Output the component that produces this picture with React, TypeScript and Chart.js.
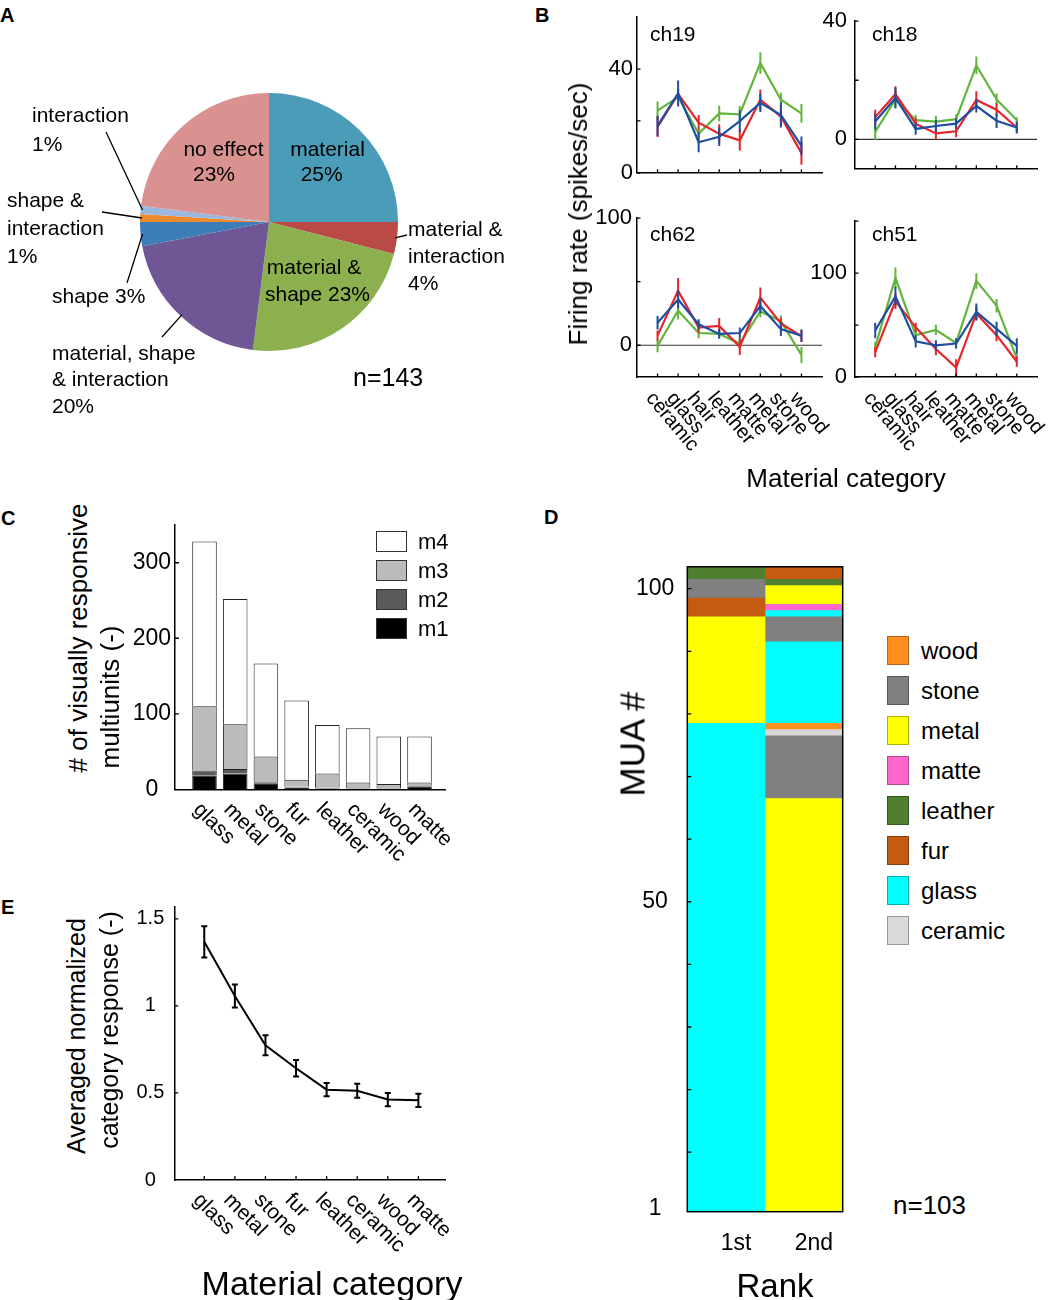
import React, { useEffect, useRef } from 'react';
import { Chart, registerables } from 'chart.js';

Chart.register(...registerables);

const FONT = '"Liberation Sans", Arial, Helvetica, sans-serif';
Chart.defaults.font.family = FONT;
Chart.defaults.color = '#000';

// ================= Panel A : pie =================
const pieLabels = [
  'material',
  'material & interaction',
  'material & shape',
  'material, shape & interaction',
  'shape',
  'shape & interaction',
  'interaction',
  'no effect',
];
const piePercents = [25, 4, 23, 20, 3, 1, 1, 23];
const pieColors = ['#4A9CB8', '#B94A46', '#8DB04E', '#6F5694', '#3E7EB8', '#EC8A2E', '#9CB7DD', '#D9928F'];

// ================= Panel B : firing rates =================
const bCategories = ['ceramic', 'glass', 'hair', 'leather', 'matte', 'metal', 'stone', 'wood'];

const ch19Green = [24, 29.2, 15.1, 22.9, 22.5, 42.3, 28.2, 22.9];
const ch19GreenErr = [3.5, 3.3, 1.5, 3, 3.3, 4.2, 2.7, 3.6];
const ch19Red = [17.7, 30.4, 19.3, 15.1, 12.5, 28.2, 21.7, 7.6];
const ch19RedErr = [3.9, 2, 3, 3.6, 3.9, 3.9, 3, 4.5];
const ch19Blue = [18.1, 30.6, 11.8, 13.9, 19.9, 27, 22.3, 10.4];
const ch19BlueErr = [3.9, 5, 3.9, 3.6, 4.2, 3.6, 4.8, 3.6];

const ch18Green = [2.5, 13.5, 6.5, 6, 6.8, 25, 13.5, 6.5];
const ch18GreenErr = [2.7, 3, 1.7, 2, 1.7, 3, 2, 1];
const ch18Red = [7.5, 15.3, 5.3, 2, 2.7, 13.3, 10, 4];
const ch18RedErr = [2.5, 2.7, 1.7, 2.2, 2, 3, 2.2, 1.7];
const ch18Blue = [6, 14, 3.5, 4.5, 5.3, 11.3, 6.3, 4];
const ch18BlueErr = [2.7, 3.5, 2, 2, 1.7, 2.2, 2.5, 2];

const ch62Green = [-0.5, 27.3, 9.6, 8.9, 1.3, 26.6, 19, -7.6];
const ch62GreenErr = [5, 7, 4, 3, 4, 4.5, 4.5, 6.3];
const ch62Red = [7.6, 43, 13.9, 15.2, -1.3, 37.5, 17.2, 7.1];
const ch62RedErr = [4, 10, 4, 6.3, 6.3, 8, 4.5, 4.5];
const ch62Blue = [17.7, 36, 16.5, 8.9, 9.6, 30.9, 12.7, 7.6];
const ch62BlueErr = [5.3, 7, 4, 3.8, 4.4, 5.7, 5.4, 5];

const ch51Green = [29, 95.5, 40.3, 45.4, 32.8, 92.5, 68.7, 17.9];
const ch51GreenErr = [5, 10, 4.5, 5, 4, 7.5, 6.5, 4.5];
const ch51Red = [23.9, 73, 47.8, 26.9, 9, 61.2, 40.3, 14.9];
const ch51RedErr = [5, 7.5, 4.5, 6, 8, 6.7, 6, 5];
const ch51Blue = [44.8, 77.6, 34.3, 30.4, 32.2, 62.7, 46.3, 29.9];
const ch51BlueErr = [7.5, 9, 6, 5, 5, 8, 7, 7.5];

// ================= Panel C : stacked counts =================
const cCategories = ['glass', 'metal', 'stone', 'fur', 'leather', 'ceramic', 'wood', 'matte'];
const cM1 = [18, 21, 8, 2.5, 1, 1, 1, 3.5];
const cM2 = [7, 6, 1.5, 1, 1, 0.5, 0.5, 1.5];
const cM3 = [85, 59, 34, 9, 19, 7.5, 5.5, 4];
const cM4 = [218, 166, 123, 105, 64, 72, 63, 61];
const cYTicks = [0, 100, 200, 300];

// ================= Panel D : rank composition =================
const dRanks = ['1st', '2nd'];
const rank1Materials = ['glass', 'metal', 'fur', 'stone', 'leather'];
const rank1Counts = [78, 17, 3, 3, 2];
const rank2Materials = ['metal', 'stone', 'ceramic', 'wood', 'glass', 'stone', 'glass', 'matte', 'metal', 'leather', 'fur'];
const rank2Counts = [66, 10, 1, 1, 13, 4, 1, 1, 3, 1, 2];
const dLegendOrder = ['wood', 'stone', 'metal', 'matte', 'leather', 'fur', 'glass', 'ceramic'];
const dYTicks = [1, 10, 20, 30, 40, 50, 60, 70, 80, 90, 100];
const dYLabels = [1, 50, 100];

// ================= Panel E : averaged response =================
const eCategories = ['glass', 'metal', 'stone', 'fur', 'leather', 'ceramic', 'wood', 'matte'];
const eValues = [1.368, 1.057, 0.774, 0.642, 0.519, 0.513, 0.462, 0.458];
const eErrors = [0.09, 0.066, 0.057, 0.047, 0.038, 0.04, 0.038, 0.038];
const eYTicks = [0, 0.5, 1, 1.5];

// ---------------- styles ----------------
const GREEN = '#62B43C';
const RED = '#E4262B';
const BLUE = '#1F4E9F';
const materialColors: Record<string, string> = {
  wood: '#FF8F1F',
  stone: '#808080',
  metal: '#FFFF00',
  matte: '#FF66CC',
  leather: '#4F7F2F',
  fur: '#C55A11',
  glass: '#00FFFF',
  ceramic: '#D9D9D9',
};
const cColors = { m1: '#000000', m2: '#5A5A5A', m3: '#BBBBBB', m4: '#FFFFFF' };

type Box = { x: number; y: number; w: number; h: number };
type Area = { L: number; T: number; R: number; B: number };

function layoutFor(area: Area, cv: Box) {
  return {
    padding: { top: area.T - cv.y, right: cv.x + cv.w - area.R, left: 0, bottom: 0 },
    yW: area.L - cv.x,
    xH: cv.y + cv.h - area.B,
  };
}

function base(lay: any, scales: any) {
  return {
    animation: false,
    responsive: false,
    devicePixelRatio: 1,
    events: [],
    layout: { padding: lay.padding },
    plugins: { legend: { display: false }, tooltip: { enabled: false } },
    scales,
  };
}

function xLinear(min: number, max: number, xH: number) {
  return {
    type: 'linear',
    min,
    max,
    offset: false,
    grid: { display: false, drawTicks: false, offset: false },
    border: { display: true, color: '#000', width: 1.5 },
    ticks: { display: false },
    afterFit: (s: any) => {
      s.height = xH;
    },
  };
}

function yLinear(min: number, max: number, tickVals: number[], labelVals: number[], pad: number, size: number, yW: number, crossAlign: string) {
  return {
    type: 'linear',
    min,
    max,
    grid: { display: false, drawTicks: false },
    border: { display: true, color: '#000', width: 1.5 },
    afterBuildTicks: (s: any) => {
      s.ticks = tickVals.map((v) => ({ value: v }));
    },
    ticks: {
      autoSkip: false,
      color: '#000',
      font: { size, family: FONT },
      padding: pad,
      crossAlign,
      callback: (v: any) => (labelVals.some((l) => Math.abs(l - Number(v)) < 1e-9) ? String(v) : ''),
    },
    afterFit: (s: any) => {
      s.width = yW;
    },
  };
}

// ---------------- plugins ----------------
function makeInTicks(xVals: number[], yVals: number[], len = 4) {
  return {
    id: 'inTicks',
    afterDraw(chart: any) {
      const { ctx, chartArea } = chart;
      const xs = chart.scales.x;
      const ys = chart.scales.y;
      ctx.save();
      ctx.strokeStyle = '#000';
      ctx.lineWidth = 1.3;
      ctx.beginPath();
      xVals.forEach((v) => {
        const px = xs.getPixelForValue(v);
        ctx.moveTo(px, chartArea.bottom);
        ctx.lineTo(px, chartArea.bottom - len);
      });
      yVals.forEach((v) => {
        const py = ys.getPixelForValue(v);
        ctx.moveTo(chartArea.left, py);
        ctx.lineTo(chartArea.left + len, py);
      });
      ctx.stroke();
      ctx.restore();
    },
  };
}

function makeRotLabels(labels: string[], angle: number, dx: number, dy: number, size: number) {
  return {
    id: 'rotLabels',
    afterDraw(chart: any) {
      const { ctx, chartArea } = chart;
      const xs = chart.scales.x;
      ctx.save();
      ctx.font = `${size}px ${FONT}`;
      ctx.fillStyle = '#000';
      ctx.textAlign = 'left';
      ctx.textBaseline = 'middle';
      labels.forEach((lab, i) => {
        const px = xs.getPixelForValue(i);
        ctx.save();
        ctx.translate(px + dx, chartArea.bottom + dy);
        ctx.rotate((angle * Math.PI) / 180);
        ctx.fillText(lab, 0, 0);
        ctx.restore();
      });
      ctx.restore();
    },
  };
}

function makeErrBars(errsBySet: number[][], cap: number, lw: number) {
  return {
    id: 'errBars',
    afterDatasetDraw(chart: any, args: any) {
      const i = args.index;
      const errs = errsBySet[i];
      if (!errs) return;
      const ds = chart.data.datasets[i];
      const xs = chart.scales.x;
      const ys = chart.scales.y;
      const ctx = chart.ctx;
      ctx.save();
      ctx.strokeStyle = ds.borderColor;
      ctx.lineWidth = lw;
      ctx.beginPath();
      ds.data.forEach((p: any, k: number) => {
        const x = xs.getPixelForValue(p.x);
        const y1 = ys.getPixelForValue(p.y - errs[k]);
        const y2 = ys.getPixelForValue(p.y + errs[k]);
        ctx.moveTo(x, y1);
        ctx.lineTo(x, y2);
        if (cap) {
          ctx.moveTo(x - cap, y1);
          ctx.lineTo(x + cap, y1);
          ctx.moveTo(x - cap, y2);
          ctx.lineTo(x + cap, y2);
        }
      });
      ctx.stroke();
      ctx.restore();
    },
  };
}

const zeroLine = {
  id: 'zeroLine',
  beforeDatasetsDraw(chart: any) {
    const { ctx, chartArea } = chart;
    const py = chart.scales.y.getPixelForValue(0);
    ctx.save();
    ctx.strokeStyle = '#333';
    ctx.lineWidth = 1.2;
    ctx.beginPath();
    ctx.moveTo(chartArea.left, py);
    ctx.lineTo(chartArea.right, py);
    ctx.stroke();
    ctx.restore();
  },
};

const frameBox = {
  id: 'frameBox',
  afterDatasetsDraw(chart: any) {
    const { ctx, chartArea } = chart;
    ctx.save();
    ctx.strokeStyle = '#000';
    ctx.lineWidth = 1.5;
    ctx.strokeRect(chartArea.left, chartArea.top, chartArea.right - chartArea.left, chartArea.bottom - chartArea.top);
    ctx.restore();
  },
};

const leaderTargets = [
  { slice: 1, x: 407, y: 235 },
  { slice: 3, x: 162, y: 337 },
  { slice: 4, x: 127, y: 283 },
  { slice: 5, x: 102, y: 212 },
  { slice: 6, x: 106, y: 132 },
];

function makeLeaders(ox: number, oy: number) {
  return {
    id: 'leaders',
    afterDraw(chart: any) {
      const meta = chart.getDatasetMeta(0);
      const ctx = chart.ctx;
      ctx.save();
      ctx.strokeStyle = '#000';
      ctx.lineWidth = 1.3;
      leaderTargets.forEach((t) => {
        const arc: any = meta.data[t.slice];
        const p = arc.getProps(['x', 'y', 'startAngle', 'endAngle', 'outerRadius'], true);
        const mid = (p.startAngle + p.endAngle) / 2;
        const r = p.outerRadius - 2;
        ctx.beginPath();
        ctx.moveTo(p.x + Math.cos(mid) * r, p.y + Math.sin(mid) * r);
        ctx.lineTo(t.x - ox, t.y - oy);
        ctx.stroke();
      });
      ctx.restore();
    },
  };
}

// ---------------- chart factories ----------------
const pieBox: Box = { x: 90, y: 43, w: 358, h: 358 };
function makePie() {
  return {
    type: 'pie',
    data: {
      labels: pieLabels,
      datasets: [{ data: piePercents, backgroundColor: pieColors, borderWidth: 0, radius: 129 }],
    },
    options: {
      animation: false,
      responsive: false,
      devicePixelRatio: 1,
      events: [],
      layout: { padding: 0 },
      plugins: { legend: { display: false }, tooltip: { enabled: false } },
    },
    plugins: [makeLeaders(pieBox.x, pieBox.y)],
  };
}

type Series = { values: number[]; errs: number[]; color: string };

function makeB(area: Area, cv: Box, yMin: number, yMax: number, yTicks: number[], yLabels: number[], labPad: number, series: Series[], zero: boolean, xLabels: boolean) {
  const lay = layoutFor(area, cv);
  const plugins: any[] = [makeInTicks(bCategories.map((_, i) => i), yTicks, 3.5), makeErrBars(series.map((s) => s.errs), 0, 2)];
  if (zero) plugins.push(zeroLine);
  if (xLabels) plugins.push(makeRotLabels(bCategories, 50, -8, 18, 20));
  return {
    type: 'line',
    data: {
      datasets: series.map((s) => ({
        data: s.values.map((v, i) => ({ x: i, y: v })),
        borderColor: s.color,
        borderWidth: 2.2,
        pointRadius: 0,
        tension: 0,
        fill: false,
      })),
    },
    options: base(lay, {
      x: xLinear(-1, 8, lay.xH),
      y: yLinear(yMin, yMax, yTicks, yLabels, labPad, 22, lay.yW, 'near'),
    }),
    plugins,
  };
}

const ch19Box: Box = { x: 590, y: 0, w: 240, h: 190 };
const ch18Box: Box = { x: 808, y: 0, w: 240, h: 190 };
const ch62Box: Box = { x: 590, y: 200, w: 250, h: 270 };
const ch51Box: Box = { x: 808, y: 200, w: 248, h: 270 };

const makeCh19 = () =>
  makeB({ L: 637, T: 8, R: 822, B: 176 }, ch19Box, 0, 60, [0, 20, 40], [0, 40], 4, [
    { values: ch19Blue, errs: ch19BlueErr, color: BLUE },
    { values: ch19Red, errs: ch19RedErr, color: RED },
    { values: ch19Green, errs: ch19GreenErr, color: GREEN },
  ], false, false);
const makeCh18 = () =>
  makeB({ L: 855, T: 8, R: 1037, B: 176 }, ch18Box, -10, 40, [0, 20, 40], [0, 40], 8, [
    { values: ch18Blue, errs: ch18BlueErr, color: BLUE },
    { values: ch18Red, errs: ch18RedErr, color: RED },
    { values: ch18Green, errs: ch18GreenErr, color: GREEN },
  ], true, false);
const makeCh62 = () =>
  makeB({ L: 637, T: 211, R: 822, B: 377 }, ch62Box, -25, 100, [0, 50, 100], [0, 100], 5, [
    { values: ch62Blue, errs: ch62BlueErr, color: BLUE },
    { values: ch62Red, errs: ch62RedErr, color: RED },
    { values: ch62Green, errs: ch62GreenErr, color: GREEN },
  ], true, true);
const makeCh51 = () =>
  makeB({ L: 855, T: 209, R: 1037, B: 377 }, ch51Box, 0, 150, [0, 50, 100, 150], [0, 100], 8, [
    { values: ch51Blue, errs: ch51BlueErr, color: BLUE },
    { values: ch51Red, errs: ch51RedErr, color: RED },
    { values: ch51Green, errs: ch51GreenErr, color: GREEN },
  ], false, true);

const cBox: Box = { x: 120, y: 505, w: 340, h: 375 };
function makeC() {
  const lay = layoutFor({ L: 175, T: 525, R: 445, B: 789.3 }, cBox);
  const stacks = [
    { label: 'm1', data: cM1, color: cColors.m1 },
    { label: 'm2', data: cM2, color: cColors.m2 },
    { label: 'm3', data: cM3, color: cColors.m3 },
    { label: 'm4', data: cM4, color: cColors.m4 },
  ];
  return {
    type: 'bar',
    data: {
      datasets: stacks.map((s) => ({
        label: s.label,
        data: s.data.map((v, i) => ({ x: i, y: v })),
        backgroundColor: s.color,
        borderColor: '#222',
        borderWidth: 1,
        barPercentage: 0.8,
        categoryPercentage: 1,
      })),
    },
    options: base(lay, {
      x: { ...xLinear(-0.96, 7.83, lay.xH), stacked: true },
      y: { ...yLinear(0, 350, cYTicks, cYTicks, 4, 23, lay.yW, 'center'), stacked: true },
    }),
    plugins: [makeInTicks([], [100, 200, 300], 4), makeRotLabels(cCategories, 45, -8, 17, 21)],
  };
}

function floatingSegments(materials: string[], counts: number[], col: number) {
  let start = 0.5;
  return materials.map((m, k) => {
    const seg = [start, start + counts[k]];
    start += counts[k];
    return {
      label: m,
      data: col === 0 ? [seg, null] : [null, seg],
      backgroundColor: materialColors[m],
      borderWidth: 0,
      barPercentage: 1,
      categoryPercentage: 1,
      grouped: false,
    };
  });
}

const dBox: Box = { x: 620, y: 540, w: 240, h: 730 };
function makeD() {
  const lay = layoutFor({ L: 687.3, T: 553.3, R: 842.7, B: 1211.7 }, dBox);
  return {
    type: 'bar',
    data: {
      labels: dRanks,
      datasets: [...floatingSegments(rank1Materials, rank1Counts, 0), ...floatingSegments(rank2Materials, rank2Counts, 1)],
    },
    options: base(lay, {
      x: {
        type: 'category',
        offset: true,
        grid: { display: false, drawTicks: false },
        border: { display: false },
        ticks: { font: { size: 23, family: FONT }, padding: 18, labelOffset: 10, color: '#000' },
        afterFit: (s: any) => {
          s.height = lay.xH;
        },
      },
      y: { ...yLinear(0.5, 103.5, dYTicks, dYLabels, 13, 23, lay.yW, 'center'), border: { display: false } },
    }),
    plugins: [frameBox, makeInTicks([], dYTicks.filter((v) => v >= 10), 4)],
  };
}

const eBox: Box = { x: 120, y: 885, w: 340, h: 380 };
function makeE() {
  const lay = layoutFor({ L: 174.3, T: 903, R: 445, B: 1180 }, eBox);
  return {
    type: 'line',
    data: {
      datasets: [
        {
          data: eValues.map((v, i) => ({ x: i, y: v })),
          borderColor: '#000',
          borderWidth: 2,
          pointRadius: 0,
          tension: 0,
          fill: false,
        },
      ],
    },
    options: base(lay, {
      x: xLinear(-0.98, 7.87, lay.xH),
      y: yLinear(0, 1.568, eYTicks, eYTicks, 10, 20, lay.yW, 'center'),
    }),
    plugins: [makeInTicks(eCategories.map((_, i) => i), [0.5, 1, 1.5], 4), makeErrBars([eErrors], 3, 2), makeRotLabels(eCategories, 45, -8, 17, 21)],
  };
}

// ---------------- components ----------------
function ChartCanvas({ box, make }: { box: Box; make: () => any }) {
  const ref = useRef<HTMLCanvasElement>(null);
  useEffect(() => {
    const chart = new Chart(ref.current as HTMLCanvasElement, make());
    return () => chart.destroy();
  }, []);
  return (
    <canvas
      ref={ref}
      width={box.w}
      height={box.h}
      style={{ position: 'absolute', left: box.x, top: box.y, width: box.w, height: box.h }}
    />
  );
}

function Txt({ x, y, s, size, align = 'left', rot = 0, bold = false }: { x: number; y: number; s: string; size: number; align?: string; rot?: number; bold?: boolean }) {
  const tx = align === 'center' ? '-50%' : align === 'right' ? '-100%' : '0';
  return (
    <div
      style={{
        position: 'absolute',
        left: x,
        top: y,
        transform: `translate(${tx}, -50%)${rot ? ` rotate(${rot}deg)` : ''}`,
        fontFamily: FONT,
        fontSize: size,
        lineHeight: `${size}px`,
        fontWeight: bold ? 700 : 400,
        whiteSpace: 'nowrap',
        color: '#000',
      }}
    >
      {s}
    </div>
  );
}

function Swatch({ x, y, w, h, color, border }: { x: number; y: number; w: number; h: number; color: string; border: string }) {
  return (
    <div
      style={{
        position: 'absolute',
        left: x,
        top: y,
        width: w,
        height: h,
        boxSizing: 'border-box',
        background: color,
        border: `1px solid ${border}`,
      }}
    />
  );
}

export default function App() {
  const cLegend = [
    { key: 'm4', y: 531 },
    { key: 'm3', y: 560 },
    { key: 'm2', y: 589 },
    { key: 'm1', y: 618 },
  ];
  return (
    <div style={{ position: 'absolute', left: 0, top: 0, width: 1056, height: 1300, background: '#fff', overflow: 'hidden' }}>
      <ChartCanvas box={pieBox} make={makePie} />
      <ChartCanvas box={ch19Box} make={makeCh19} />
      <ChartCanvas box={ch18Box} make={makeCh18} />
      <ChartCanvas box={ch62Box} make={makeCh62} />
      <ChartCanvas box={ch51Box} make={makeCh51} />
      <ChartCanvas box={cBox} make={makeC} />
      <ChartCanvas box={dBox} make={makeD} />
      <ChartCanvas box={eBox} make={makeE} />

      {/* panel letters */}
      <Txt x={0} y={15} s="A" size={20} bold />
      <Txt x={535} y={15} s="B" size={20} bold />
      <Txt x={1} y={518} s="C" size={20} bold />
      <Txt x={544} y={517} s="D" size={20} bold />
      <Txt x={1} y={907} s="E" size={20} bold />

      {/* Panel A labels */}
      <Txt x={223.5} y={148} s="no effect" size={21} align="center" />
      <Txt x={214} y={173} s="23%" size={21} align="center" />
      <Txt x={327.5} y={148} s="material" size={21} align="center" />
      <Txt x={321.7} y={173} s="25%" size={21} align="center" />
      <Txt x={314} y={266} s="material &" size={21} align="center" />
      <Txt x={317.5} y={293} s="shape 23%" size={21} align="center" />
      <Txt x={408} y={228} s="material &" size={21} />
      <Txt x={408} y={255} s="interaction" size={21} />
      <Txt x={408} y={282} s="4%" size={21} />
      <Txt x={32} y={114} s="interaction" size={21} />
      <Txt x={32} y={143} s="1%" size={21} />
      <Txt x={7} y={199} s="shape &" size={21} />
      <Txt x={7} y={227} s="interaction" size={21} />
      <Txt x={7} y={255} s="1%" size={21} />
      <Txt x={52} y={295} s="shape 3%" size={21} />
      <Txt x={52} y={352} s="material, shape" size={21} />
      <Txt x={52} y={378} s="& interaction" size={21} />
      <Txt x={52} y={405} s="20%" size={21} />
      <Txt x={353} y={377} s="n=143" size={25} />

      {/* Panel B labels */}
      <Txt x={650} y={33} s="ch19" size={21} />
      <Txt x={872} y={33} s="ch18" size={21} />
      <Txt x={650} y={233} s="ch62" size={21} />
      <Txt x={872} y={233} s="ch51" size={21} />
      <Txt x={578} y={214} s="Firing rate (spikes/sec)" size={26} align="center" rot={-90} />
      <Txt x={846} y={478} s="Material category" size={26} align="center" />

      {/* Panel C labels */}
      <Txt x={78} y={638} s="# of visually responsive" size={26} align="center" rot={-90} />
      <Txt x={110} y={697} s="multiunits (-)" size={26} align="center" rot={-90} />
      {cLegend.map((l) => (
        <React.Fragment key={l.key}>
          <Swatch x={376} y={l.y} w={31} h={21} color={(cColors as any)[l.key]} border="#333" />
          <Txt x={418} y={l.y + 10.5} s={l.key} size={22} />
        </React.Fragment>
      ))}

      {/* Panel D labels */}
      <Txt x={632} y={744} s="MUA #" size={35} align="center" rot={-90} />
      <Txt x={775} y={1285} s="Rank" size={33} align="center" />
      <Txt x={893} y={1205} s="n=103" size={26} />
      {dLegendOrder.map((m, k) => (
        <React.Fragment key={m}>
          <Swatch x={887} y={636 + k * 40} w={22} h={29} color={materialColors[m]} border="rgba(0,0,0,0.3)" />
          <Txt x={921} y={650.5 + k * 40} s={m} size={24} />
        </React.Fragment>
      ))}

      {/* Panel E labels */}
      <Txt x={76} y={1036} s="Averaged normalized" size={25} align="center" rot={-90} />
      <Txt x={109} y={1030} s="category response (-)" size={25} align="center" rot={-90} />
      <Txt x={332} y={1283} s="Material category" size={34} align="center" />
    </div>
  );
}
